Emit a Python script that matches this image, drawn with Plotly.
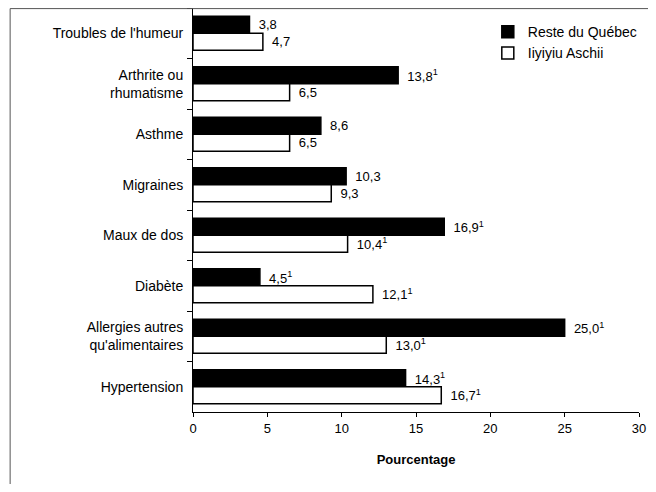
import plotly.graph_objects as go

categories = ["Troubles de l'humeur", "Arthrite ou<br>rhumatisme", "Asthme", "Migraines",
              "Maux de dos", "Diabète", "Allergies autres<br>qu'alimentaires", "Hypertension"]
reste = [3.8, 13.8, 8.6, 10.3, 16.9, 4.5, 25.0, 14.3]
reste_sup = [False, True, False, False, True, True, True, True]
iiyiyiu = [4.7, 6.5, 6.5, 9.3, 10.4, 12.1, 13.0, 16.7]
iiyiyiu_sup = [False, False, False, False, True, True, True, True]
x_ticks = [0, 5, 10, 15, 20, 25, 30]


def fmt(v, sup):
    s = "\u00a0\u2009" + f"{v:.1f}".replace(".", ",")
    if sup:
        s += "<sup>1</sup>"
    return s


FONT = "Liberation Sans, Arial, sans-serif"

fig = go.Figure()
fig.add_trace(go.Bar(
    y=categories, x=reste, orientation="h", name="Reste du Québec",
    marker=dict(color="black", line=dict(color="black", width=1.5)),
    text=[fmt(v, s) for v, s in zip(reste, reste_sup)],
    textposition="outside", textfont=dict(size=13, color="black", family=FONT),
    cliponaxis=False,
))
fig.add_trace(go.Bar(
    y=categories, x=iiyiyiu, orientation="h", name="Iiyiyiu Aschii",
    marker=dict(color="white", line=dict(color="black", width=1.5)),
    text=[fmt(v, s) for v, s in zip(iiyiyiu, iiyiyiu_sup)],
    textposition="outside", textfont=dict(size=13, color="black", family=FONT),
    cliponaxis=False,
))

fig.update_layout(
    width=648, height=476,
    margin=dict(l=185, r=17, t=0, b=72),
    paper_bgcolor="white", plot_bgcolor="white",
    barmode="group", bargap=0.33, bargroupgap=0,
    font=dict(family=FONT, size=13, color="black"),
    legend=dict(x=0.661, y=0.98, xanchor="left", yanchor="top",
                bgcolor="rgba(0,0,0,0)", font=dict(size=14, family=FONT),
                itemwidth=30),
    showlegend=True,
    xaxis=dict(range=[0, 30], tickvals=x_ticks, ticktext=[str(t) for t in x_ticks],
               showgrid=False, zeroline=False, showline=True, linecolor="black",
               linewidth=1, ticks="outside", ticklen=4, tickcolor="black",
               tickfont=dict(size=13, family=FONT),
               title=dict(text="<b>Pourcentage</b>", font=dict(size=13, family=FONT), standoff=20)),
    yaxis=dict(autorange="reversed", showgrid=False, zeroline=False, showline=True,
               linecolor="black", linewidth=1, ticks="outside", ticklen=5,
               tickcolor="black", tickson="boundaries", ticklabelstandoff=6,
               tickfont=dict(size=14, family=FONT)),
    shapes=[dict(type="rect", xref="paper", yref="paper",
                 x0=-0.41, x1=1.029, y0=-0.25, y1=0.9985,
                 line=dict(color="#555555", width=1), fillcolor="rgba(0,0,0,0)", layer="above")],
)

fig.write_html("out.html")
